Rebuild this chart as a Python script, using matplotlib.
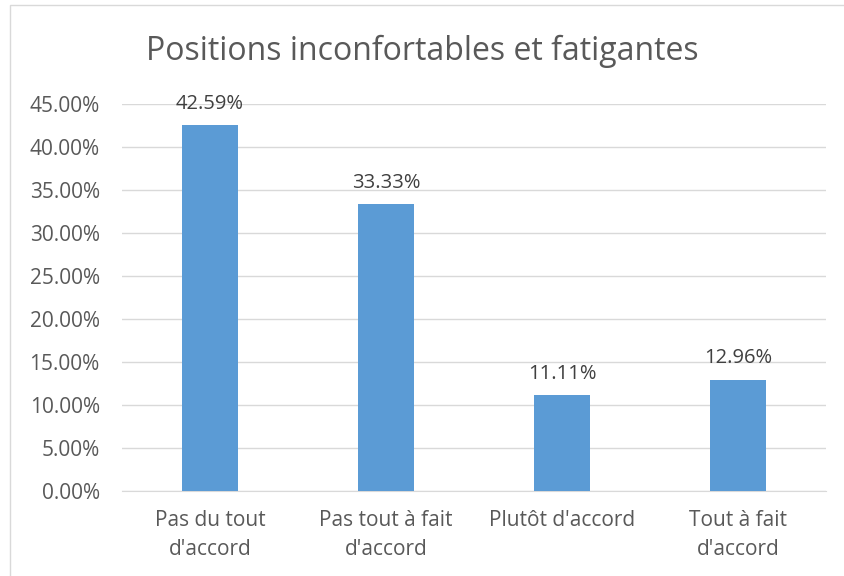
import matplotlib.pyplot as plt
from matplotlib.patches import Rectangle
from matplotlib.ticker import FuncFormatter

# data
categories = ["Pas du tout\nd'accord", "Pas tout à fait\nd'accord", "Plutôt d'accord", "Tout à fait\nd'accord"]
values = [42.59, 33.33, 11.11, 12.96]
title = "Positions inconfortables et fatigantes"

plt.rcParams['font.family'] = ['Open Sans', 'DejaVu Sans']
text_color = '#595959'

fig = plt.figure(figsize=(8.44, 5.76), dpi=100)
ax = fig.add_axes([122 / 844, 1 - 491 / 576, 704 / 844, 387 / 576])

x = list(range(len(values)))
bars = ax.bar(x, values, width=0.32, color='#5B9BD5', zorder=3)
for b, v in zip(bars, values):
    ax.text(b.get_x() + b.get_width() / 2, v + 1.3, f"{v:.2f}%",
            ha='center', va='bottom', fontsize=14.5, color='#404040')

ax.set_xlim(-0.5, len(values) - 0.5)
ax.set_ylim(0, 45)
ax.set_yticks(range(0, 46, 5))
ax.yaxis.set_major_formatter(FuncFormatter(lambda v, p: f"{v:.2f}%"))
ax.set_xticks(x)
ax.set_xticklabels(categories, linespacing=1.45)
ax.tick_params(axis='y', length=0, pad=16, labelsize=15, labelcolor=text_color)
ax.tick_params(axis='x', length=0, pad=14, labelsize=15, labelcolor=text_color)
ax.grid(axis='y', color='#D9D9D9', linewidth=1, zorder=0)
for s in ['top', 'right', 'left']:
    ax.spines[s].set_visible(False)
ax.spines['bottom'].set_color('#D9D9D9')

fig.text(0.5, 1 - 51 / 576, title, ha='center', va='center', fontsize=23, color=text_color)

# chart border
fig.patches.append(Rectangle((10 / 844, -0.01), 1.0, 1 - 5 / 576 + 0.01,
                             transform=fig.transFigure, fill=False,
                             edgecolor='#D9D9D9', linewidth=1))

plt.savefig('out.png')
